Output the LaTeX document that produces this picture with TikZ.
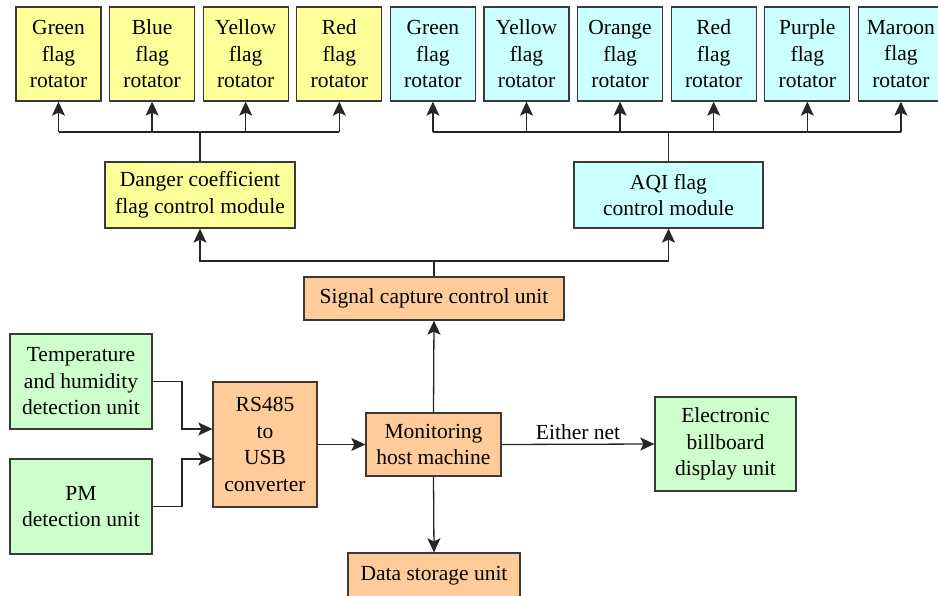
\documentclass[tikz,border=0pt]{standalone}
\usepackage{fontspec}
\setmainfont{Liberation Serif}
\usetikzlibrary{arrows.meta}
\definecolor{cyel}{HTML}{FFFF99}
\definecolor{ccya}{HTML}{CCFFFF}
\definecolor{cora}{HTML}{FFCC99}
\definecolor{cgre}{HTML}{CCFFCC}
\definecolor{cbord}{HTML}{3A3A3A}
\tikzset{
  box/.style={draw=cbord, line width=1.3pt, rectangle, inner sep=0pt, align=center,
    font=\fontsize{21.5}{26.5}\selectfont, text=black},
  flagbox/.style={box, minimum width=85pt, minimum height=94pt},
  conn/.style={draw=black!85, line width=1.3pt},
  arr/.style={conn, -{Stealth[length=14pt,width=13pt,inset=3pt]}},
}
\begin{document}
\begin{tikzpicture}[x=1pt,y=-1pt]
\useasboundingbox (0,0) rectangle (938,596);
% top flag rotators
\node[flagbox, fill=cyel] (y1) at (58.5,54) {Green\\flag\\rotator};
\node[flagbox, fill=cyel] (y2) at (152.1,54) {Blue\\flag\\rotator};
\node[flagbox, fill=cyel] (y3) at (245.7,54) {Yellow\\flag\\rotator};
\node[flagbox, fill=cyel] (y4) at (339.3,54) {Red\\flag\\rotator};
\node[flagbox, fill=ccya] (c1) at (432.9,54) {Green\\flag\\rotator};
\node[flagbox, fill=ccya] (c2) at (526.5,54) {Yellow\\flag\\rotator};
\node[flagbox, fill=ccya] (c3) at (620.1,54) {Orange\\flag\\rotator};
\node[flagbox, fill=ccya] (c4) at (713.7,54) {Red\\flag\\rotator};
\node[flagbox, fill=ccya] (c5) at (807.3,54) {Purple\\flag\\rotator};
\node[flagbox, fill=ccya] (c6) at (900.9,54) {Maroon\\flag\\rotator};
% control modules
\node[box, fill=cyel, minimum width=190pt, minimum height=66pt] (danger) at (200,195) {Danger coefficient\\flag control module};
\node[box, fill=ccya, minimum width=189pt, minimum height=66pt] (aqi) at (668.5,195) {AQI flag\\control module};
% middle units
\node[box, fill=cora, minimum width=260pt, minimum height=43pt] (sig) at (434,298.5) {Signal capture control unit};
\node[box, fill=cora, minimum width=135pt, minimum height=63pt] (mon) at (433.5,444.5) {Monitoring\\host machine};
\node[box, fill=cora, minimum width=172pt, minimum height=46pt] (data) at (434,576) {Data storage unit};
\node[box, fill=cora, minimum width=104pt, minimum height=125pt] (rs) at (265,444.5) {RS485\\to\\USB\\converter};
\node[box, fill=cgre, minimum width=142pt, minimum height=95pt] (temp) at (81,381.5) {Temperature\\and humidity\\detection unit};
\node[box, fill=cgre, minimum width=142pt, minimum height=95pt] (pm) at (81,506.5) {PM\\detection unit};
\node[box, fill=cgre, minimum width=141pt, minimum height=94pt] (elec) at (725.5,444) {Electronic\\billboard\\display unit};
% bus coordinates
\coordinate (bl) at (200,132);
\coordinate (br) at (668.5,132);
\coordinate (bs) at (434,261);
% left fan-out
\draw[conn] (danger.north) -- (bl);
\draw[conn] (bl -| y1.south) -- (bl -| y4.south);
\foreach \n in {y1,y2,y3,y4} \draw[arr] (bl -| \n.south) -- (\n.south);
% right fan-out
\draw[conn] (aqi.north) -- (br);
\draw[conn] (br -| c1.south) -- (br -| c6.south);
\foreach \n in {c1,c2,c3,c4,c5,c6} \draw[arr] (br -| \n.south) -- (\n.south);
% signal capture bus
\draw[conn] (sig.north) -- (bs);
\draw[arr] (bs) -| (danger.south);
\draw[arr] (bs) -| (aqi.south);
% monitoring connections
\draw[arr] (mon.north) -- (sig.south);
\draw[arr] (mon.south) -- (data.north);
\draw[arr] (mon.east) -- node[above=1pt, font=\fontsize{21.5}{26.5}\selectfont] {Either net} (elec.west);
\draw[arr] (rs.east) -- (mon.west);
% sensors to converter
\coordinate (jx) at (182,0);
\draw[arr] (temp.east) -- (temp.east -| jx) |- ([yshift=15.5pt]rs.west);
\draw[arr] (pm.east) -- (pm.east -| jx) |- ([yshift=-14.5pt]rs.west);
\end{tikzpicture}
\end{document}
